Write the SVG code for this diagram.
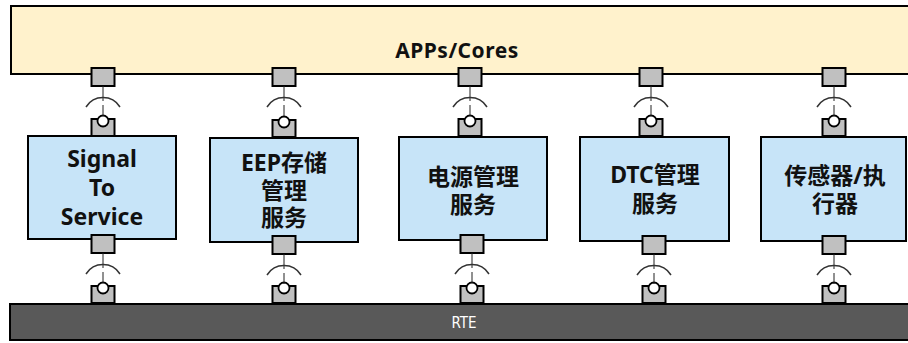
<svg xmlns="http://www.w3.org/2000/svg" width="908" height="343" viewBox="0 0 908 343">
<style>
.bar{fill:#fff2cc;stroke:#000;stroke-width:2}
.rte{fill:#595959;stroke:#000;stroke-width:2}
.box{fill:#c7e4f8;stroke:#000;stroke-width:2}
.port{fill:#c0c0c0;stroke:#000;stroke-width:2}
.ball{fill:#fff;stroke:#000;stroke-width:1.8}
.wire{stroke:#222;stroke-width:1;fill:none}
.sock{stroke:#333;stroke-width:1.5;fill:none}
.t{font-family:"Noto Sans","Noto Sans CJK SC",sans-serif;font-weight:bold;font-size:23px;fill:#111;text-anchor:middle}
.tt{font-family:"Noto Sans","Noto Sans CJK SC",sans-serif;font-weight:bold;font-size:21px;fill:#111;text-anchor:middle}
.rt{font-family:"DejaVu Sans",sans-serif;font-stretch:condensed;font-size:15px;fill:#fff;text-anchor:middle}
</style>
<defs>
<g id="topport"><rect class="port" x="-11.5" y="0" width="23" height="18"/></g>
<g id="ballport"><rect class="port" x="-11.5" y="0" width="23" height="17"/><circle class="ball" cx="0" cy="2" r="5.5"/></g>
<g id="link"><line class="wire" x1="0" y1="0" x2="0" y2="15"/><path class="sock" d="M-17 21 A20 20 0 0 1 17 21"/><line class="wire" x1="0" y1="19" x2="0" y2="30"/></g>
</defs>

<g id="apps">
<rect class="bar" x="11" y="6" width="920" height="68"/>
<text class="tt" x="457" y="58" letter-spacing="0.5">APPs/Cores</text>
<use href="#topport" x="103" y="68"/>
<use href="#topport" x="284" y="68"/>
<use href="#topport" x="470" y="68"/>
<use href="#topport" x="651" y="68"/>
<use href="#topport" x="834" y="68"/>
</g>

<g id="rte">
<rect class="rte" x="10" y="304" width="920" height="36"/>
<text class="rt" x="464" y="328">RTE</text>
<use href="#ballport" x="103" y="286"/>
<use href="#ballport" x="284" y="286"/>
<use href="#ballport" x="472" y="286"/>
<use href="#ballport" x="654" y="286"/>
<use href="#ballport" x="834" y="286"/>
</g>

<g id="signal-to-service">
<rect class="box" x="28" y="136" width="148" height="103"/>
<use href="#ballport" x="103" y="119"/>
<use href="#topport" x="103" y="235"/>
<text class="t" x="102" y="167">Signal</text>
<text class="t" x="102" y="196">To</text>
<text class="t" x="102" y="225">Service</text>
</g>

<g id="eep">
<rect class="box" x="210" y="138" width="148" height="104"/>
<use href="#ballport" x="284" y="120"/>
<use href="#topport" x="284" y="236"/>
<text class="t" x="284" y="171">EEP存储</text>
<text class="t" x="284" y="199">管理</text>
<text class="t" x="284" y="226">服务</text>
</g>

<g id="power">
<rect class="box" x="399" y="137" width="148" height="103"/>
<use href="#ballport" x="470" y="119"/>
<use href="#topport" x="472" y="235"/>
<text class="t" x="473" y="184.5">电源管理</text>
<text class="t" x="473" y="213">服务</text>
</g>

<g id="dtc">
<rect class="box" x="580" y="137" width="149" height="104"/>
<use href="#ballport" x="651" y="119"/>
<use href="#topport" x="654" y="236"/>
<text class="t" x="655" y="183">DTC管理</text>
<text class="t" x="655" y="212">服务</text>
</g>

<g id="sensor">
<rect class="box" x="761" y="137" width="145" height="104"/>
<use href="#ballport" x="834" y="119"/>
<use href="#topport" x="834" y="236"/>
<text class="t" x="835" y="184">传感器/执</text>
<text class="t" x="835" y="212">行器</text>
</g>

<g id="connectors">
<use href="#link" x="103" y="86"/>
<use href="#link" x="284" y="86"/>
<use href="#link" x="470" y="86"/>
<use href="#link" x="651" y="86"/>
<use href="#link" x="834" y="86"/>
<use href="#link" x="103" y="253"/>
<use href="#link" x="284" y="254"/>
<use href="#link" x="472" y="253"/>
<use href="#link" x="654" y="254"/>
<use href="#link" x="834" y="254"/>
</g>
</svg>
